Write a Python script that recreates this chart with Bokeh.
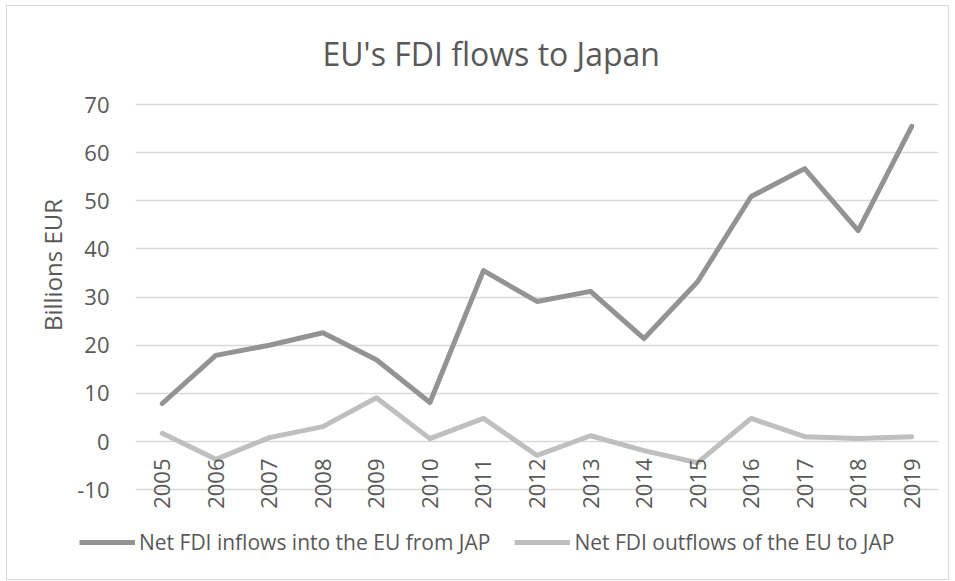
import math
from bokeh.plotting import figure
from bokeh.layouts import column
from bokeh.models import (Range1d, FactorRange, FixedTicker, Legend, LegendItem,
                          ColumnDataSource)
from bokeh.core.properties import value
from bokeh.embed import file_html
from bokeh.resources import INLINE

years = ["2005", "2006", "2007", "2008", "2009", "2010", "2011", "2012",
         "2013", "2014", "2015", "2016", "2017", "2018", "2019"]
inflows = [7.9, 17.9, 20.0, 22.6, 17.0, 8.1, 35.5, 29.1, 31.2, 21.4, 33.2, 50.9, 56.7, 43.8, 65.5]
outflows = [1.7, -3.7, 0.8, 3.1, 9.1, 0.6, 4.8, -2.9, 1.2, -1.9, -4.4, 4.8, 1.0, 0.6, 1.0]
y_ticks = [-10, 0, 10, 20, 30, 40, 50, 60, 70]
title_text = "EU's FDI flows to Japan"
y_title = "Billions EUR"
name_in = "Net FDI inflows into the EU from JAP"
name_out = "Net FDI outflows of the EU to JAP"

FONT = "Open Sans"
TXT = "#595959"
C_IN = "#939393"
C_OUT = "#bfbfbf"

src = ColumnDataSource(dict(x=years, inf=inflows, out=outflows, zero=[0] * len(years)))
xr = FactorRange(factors=years, range_padding=0)

# main chart (canvas placed at page x=7, y=6)
p = figure(width=941, height=520, output_backend="svg", toolbar_location=None,
           x_range=xr, y_range=Range1d(-14.75, 71.27),
           min_border_left=128, min_border_right=10, min_border_top=92, min_border_bottom=14)
p.outline_line_color = None
p.background_fill_color = "white"
p.border_fill_color = "white"

p.title.text = title_text
p.title.align = "left"
p.title.offset = 187
p.title.standoff = 47
p.title.text_font = FONT
p.title.text_font_size = "32px"
p.title.text_font_style = "normal"
p.title.text_color = TXT

p.xaxis.visible = False
p.xgrid.grid_line_color = None
p.ygrid.grid_line_color = "#d9d9d9"
p.ygrid.grid_line_width = 1.3
p.yaxis.ticker = FixedTicker(ticks=y_ticks)
p.yaxis.major_label_overrides = {t: str(t) for t in y_ticks}
p.yaxis.axis_line_color = None
p.yaxis.major_tick_line_color = None
p.yaxis.minor_tick_line_color = None
p.yaxis.major_label_text_font = FONT
p.yaxis.major_label_text_font_size = "22px"
p.yaxis.major_label_text_color = TXT
p.yaxis.major_label_standoff = 20
# leading no-break spaces lift the title toward the upper part of the axis, as in the reference
p.yaxis.axis_label = "\u00a0" * 13 + y_title
p.yaxis.axis_label_text_font = FONT
p.yaxis.axis_label_text_font_size = "24px"
p.yaxis.axis_label_text_font_style = "normal"
p.yaxis.axis_label_text_color = TXT
p.yaxis.axis_label_standoff = 5

p.line("x", "inf", source=src, line_color=C_IN, line_width=5, line_cap="round", line_join="round")
p.line("x", "out", source=src, line_color=C_OUT, line_width=5, line_cap="round", line_join="round")

p.text("x", "zero", text="x", source=src, angle=math.pi / 2, text_align="right",
       text_baseline="middle", y_offset=17, text_font=value(FONT),
       text_font_size="22px", text_color=TXT)

# legend strip below the chart
pl = figure(width=941, height=53, output_backend="svg", toolbar_location=None,
            x_range=xr, y_range=Range1d(1000, 1001),
            x_axis_location=None, y_axis_location=None,
            min_border_left=0, min_border_right=0, min_border_top=0, min_border_bottom=0)
pl.title = None
pl.outline_line_color = None
pl.grid.visible = False
pl.background_fill_color = "white"
pl.border_fill_color = "white"

leg_x = -56
if "frame_align" in pl.properties():
    pl.frame_align = False
    p.frame_align = False
    leg_x = 72

l1 = pl.line("x", "inf", source=src, line_color=C_IN, line_width=5)
l2 = pl.line("x", "out", source=src, line_color=C_OUT, line_width=5)
legend = Legend(items=[LegendItem(label=name_in, renderers=[l1]),
                       LegendItem(label=name_out, renderers=[l2])],
                orientation="horizontal", location=(leg_x, 23),
                glyph_width=56, glyph_height=20, label_standoff=4, spacing=24,
                padding=0, margin=0, border_line_color=None, background_fill_alpha=0,
                label_text_font=FONT, label_text_font_size="21px", label_text_color=TXT)
pl.add_layout(legend)

root = column(p, pl, spacing=0)
root.styles = {"margin-left": "6px", "margin-top": "5px", "border": "1px solid #d9d9d9"}

open("out.html", "w").write(file_html(root, INLINE))
